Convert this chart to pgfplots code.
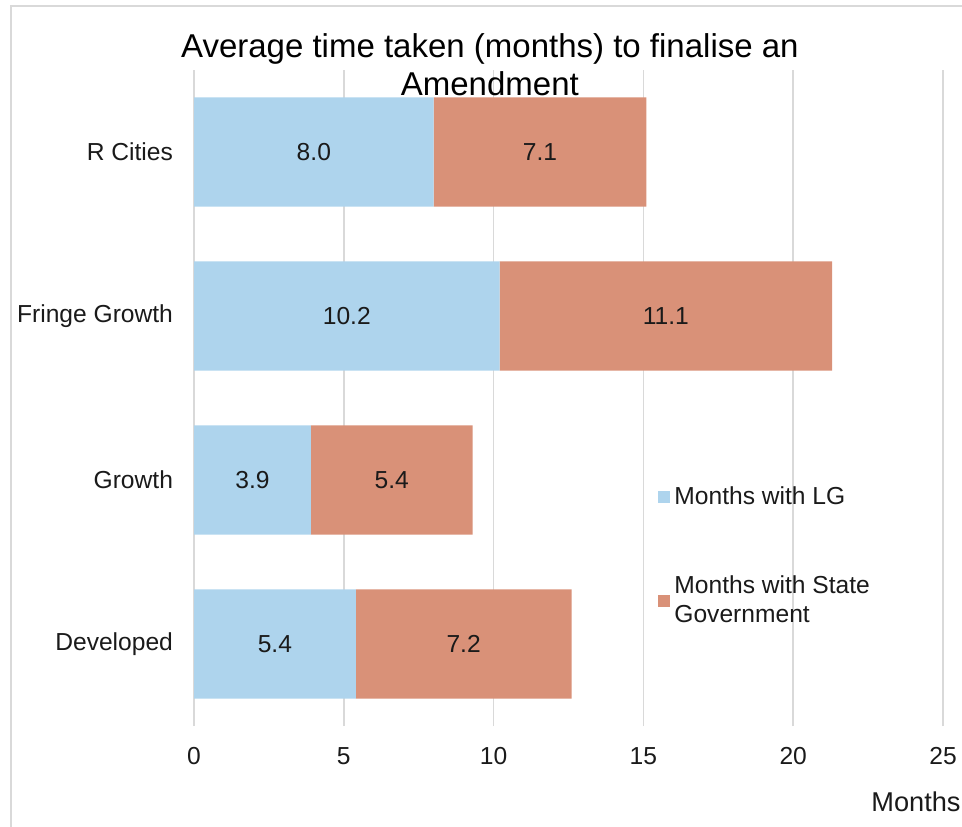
\documentclass[border=0pt]{standalone}
\usepackage{pgfplots}
\pgfplotsset{compat=1.18}
\usepackage{fontspec}
\setmainfont{Liberation Sans}
\definecolor{lgblue}{HTML}{AED4ED}
\definecolor{stateor}{HTML}{D99178}
\definecolor{gridc}{HTML}{D9D9D9}
\definecolor{txt}{HTML}{1A1A1A}
\pgfplotsset{sqlegend/.style={legend image code/.code={\fill[##1,draw=none] (0pt,-3pt) rectangle (6pt,3pt);}}}
\begin{document}
\begin{tikzpicture}
\path[use as bounding box] (0,0) rectangle (481pt,413pt);
\draw[gridc, line width=1pt] (5.5pt,-2pt) -- (5.5pt,410pt) -- (485pt,410pt);
\begin{axis}[
  at={(97pt,50pt)}, anchor=south west,
  scale only axis, width=374.5pt, height=328pt,
  xbar stacked, bar width=0.665,
  xmin=0, xmax=25, ymin=-0.5, ymax=3.5,
  xtick={0,5,...,25}, ytick={0,1,2,3},
  yticklabels={Developed,Growth,Fringe Growth,R Cities},
  axis line style={draw=none},
  major tick length=0,
  xmajorgrids, grid style={gridc, line width=0.8pt},
  tick label style={font=\fontsize{12.3}{14}\selectfont, text=txt},
  /pgf/number format/assume math mode=true,
  yticklabel style={xshift=-7pt},
  xticklabel style={yshift=-7pt},
  title={Average time taken (months) to finalise an\\Amendment},
  title style={at={(axis description cs:0.395,0.99)}, anchor=center, align=center, font=\fontsize{16.5}{19}\selectfont, text=black},
  xlabel={Months},
  xlabel style={at={(axis description cs:1.024,-0.131)}, anchor=base east, inner sep=0pt, font=\fontsize{13.6}{16}\selectfont, text=txt},
  visualization depends on={rawx \as \rawx},
  nodes near coords={\pgfmathprintnumber[fixed,fixed zerofill,precision=1]{\rawx}},
  every node near coord/.append style={font=\fontsize{12.3}{14}\selectfont, text=txt, anchor=center},
  legend style={at={(0.6195,0.371)}, anchor=north west, draw=none, fill=none, inner sep=0pt,
    font=\fontsize{12.3}{14.5}\selectfont, text=txt, row sep=30pt,
    cells={anchor=west, align=left}},
  legend cell align=left,
]
\addplot[fill=lgblue, draw=none, sqlegend] coordinates {(5.4,0) (3.9,1) (10.2,2) (8.0,3)};
\addplot[fill=stateor, draw=none, sqlegend] coordinates {(7.2,0) (5.4,1) (11.1,2) (7.1,3)};
\legend{Months with LG, {Months with State\\Government}}
\end{axis}
\end{tikzpicture}
\end{document}
